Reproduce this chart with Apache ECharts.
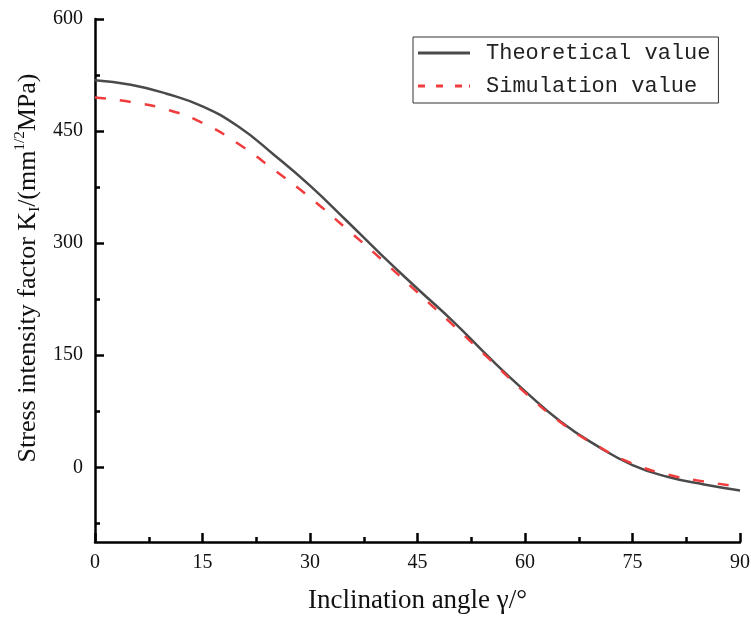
<!DOCTYPE html>
<html>
<head>
<meta charset="utf-8">
<script src="https://cdn.jsdelivr.net/npm/echarts@6/dist/echarts.min.js"></script>
<style>
  html, body { margin: 0; padding: 0; background: #fff; }
  #chart { width: 751px; height: 619px; }
</style>
</head>
<body>
<div id="chart"></div>
<script>
// Inclination angle (degrees)
const angles = [0, 5, 10, 15, 20, 25, 30, 35, 40, 45, 50, 55, 60, 65, 70, 75, 80, 85, 90];
// Stress intensity factor K_I, theoretical
const theoretical = [518, 512, 500, 483, 456, 418, 377, 331, 284, 239, 195, 147, 102, 61, 29, 3, -13, -23, -31];
// Stress intensity factor K_I, simulation
const simulation = [495, 489, 479, 461, 433, 398, 361, 320, 278, 234, 190, 145, 100, 60, 29, 5, -10, -19, -26];

const yMajorTicks = [0, 150, 300, 450, 600];
const yMinorTicks = [-75, 75, 225, 375, 525];
const seriesNames = ['Theoretical value', 'Simulation value'];

const serif = 'Liberation Serif';
const axisColor = '#000';
const chart = echarts.init(document.getElementById('chart'), null, { renderer: 'canvas' });

// three overlapping grids: the plot itself, then one for each set of y ticks
const gridRect = { left: 95, right: 11, top: 19, bottom: 77, outerBoundsMode: 'none', containLabel: false };

const yBase = {
  type: 'value', min: -100, max: 600,
  splitLine: { show: false }
};
function tickAxis(gridIndex, values, len) {
  return Object.assign({}, yBase, {
    gridIndex: gridIndex,
    position: 'left',
    axisLine: { show: false, onZero: false },
    axisTick: { show: true, inside: true, length: len, customValues: values, lineStyle: { color: axisColor, width: 2.5 } },
    axisLabel: { show: false }
  });
}
function hiddenX(gridIndex) {
  return { gridIndex: gridIndex, show: false, type: 'value', min: 0, max: 90 };
}

chart.setOption({
  animation: false,
  backgroundColor: '#ffffff',
  grid: [Object.assign({}, gridRect), Object.assign({}, gridRect), Object.assign({}, gridRect)],
  legend: {
    orient: 'vertical',
    left: 413, top: 37,
    padding: [5, 8, 6, 5],
    itemWidth: 52, itemHeight: 3, itemGap: 11,
    borderColor: '#333', borderWidth: 1,
    textStyle: { fontFamily: 'Liberation Mono', fontSize: 22, color: '#222', padding: [0, 0, 0, 11] },
    data: [
      { name: seriesNames[0], icon: 'path://M0,0h52v3h-52z' },
      { name: seriesNames[1], icon: 'path://M0,0h7v3h-7zM18,0h7v3h-7zM37,0h7v3h-7zM51,0h1v3h-1z' }
    ]
  },
  xAxis: [
    {
      gridIndex: 0,
      type: 'value', min: 0, max: 90, interval: 15,
      name: 'Inclination angle γ/°',
      nameLocation: 'middle', nameGap: 45,
      nameTextStyle: { fontFamily: serif, fontSize: 27, color: '#111' },
      axisLine: { onZero: false, lineStyle: { color: axisColor, width: 2.5 } },
      axisTick: { inside: true, length: 9, lineStyle: { color: axisColor, width: 2.5 } },
      minorTick: { show: true, splitNumber: 2, length: 5, lineStyle: { color: axisColor, width: 2.5 } },
      axisLabel: { fontFamily: serif, fontSize: 20, color: '#111', margin: 11 },
      splitLine: { show: false }
    },
    hiddenX(1),
    hiddenX(2)
  ],
  yAxis: [
    Object.assign({}, yBase, {
      gridIndex: 0,
      position: 'left',
      axisLine: { show: true, onZero: false, lineStyle: { color: axisColor, width: 2.5 } },
      axisTick: { show: false },
      axisLabel: { fontFamily: serif, fontSize: 20, color: '#111', margin: 12, customValues: yMajorTicks }
    }),
    tickAxis(1, yMajorTicks, 9),
    tickAxis(2, yMinorTicks, 5)
  ],
  series: [
    {
      name: seriesNames[0], type: 'line', xAxisIndex: 0, yAxisIndex: 0,
      data: angles.map((a, i) => [a, theoretical[i]]),
      smooth: 0.5, symbol: 'none',
      lineStyle: { color: '#4a4a4a', width: 2.5 },
      itemStyle: { color: '#4a4a4a' },
      z: 2
    },
    {
      name: seriesNames[1], type: 'line', xAxisIndex: 0, yAxisIndex: 0,
      data: angles.map((a, i) => [a, simulation[i]]),
      smooth: 0.5, symbol: 'none',
      lineStyle: { color: '#f03c3c', width: 2.5, type: [11, 14] },
      itemStyle: { color: '#f03c3c' },
      z: 3
    }
  ],
  graphic: [{
    type: 'text',
    x: 28, y: 268,
    rotation: Math.PI / 2,
    style: {
      text: 'Stress intensity factor K{sub|I}/(mm{sup|1/2}MPa)',
      fontFamily: serif, fontSize: 26, fill: '#111',
      align: 'center', verticalAlign: 'middle',
      lineHeight: 30,
      rich: {
        sub: { fontFamily: serif, fontSize: 15, fill: '#111', verticalAlign: 'bottom', lineHeight: 14 },
        sup: { fontFamily: serif, fontSize: 15, fill: '#111', verticalAlign: 'top', lineHeight: 14 }
      }
    }
  }]
});
</script>
</body>
</html>
